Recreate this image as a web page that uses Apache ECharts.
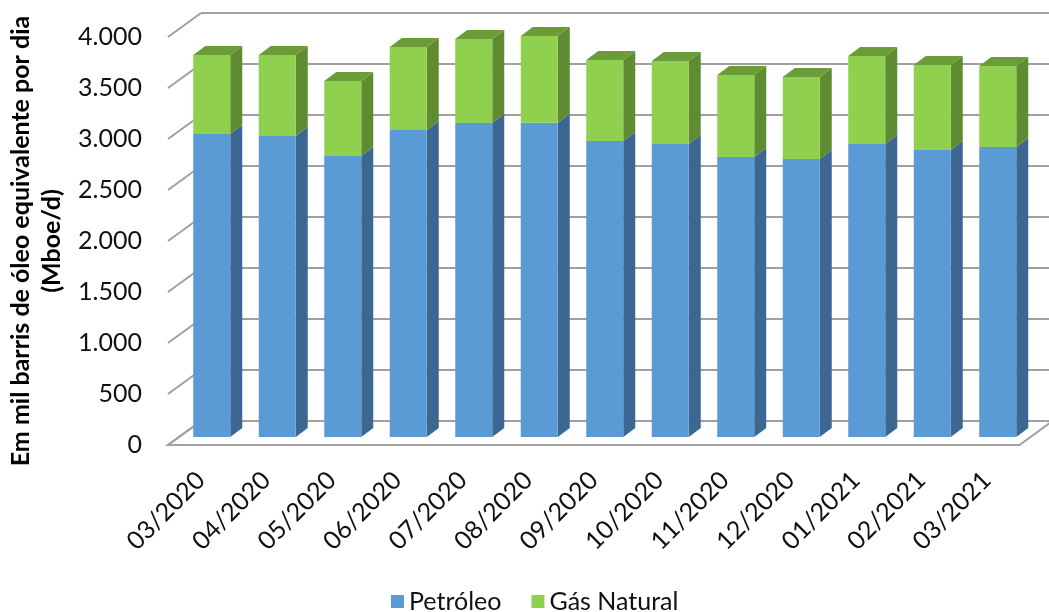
<!DOCTYPE html>
<html>
<head>
<meta charset="utf-8">
<script src="https://cdn.jsdelivr.net/npm/echarts@6/dist/echarts.min.js"></script>
<style>html,body{margin:0;padding:0;background:#fff}#c{width:1049px;height:612px}</style>
</head>
<body>
<div id="c"></div>
<script>
const categories = ['03/2020','04/2020','05/2020','06/2020','07/2020','08/2020','09/2020','10/2020','11/2020','12/2020','01/2021','02/2021','03/2021'];
const petroleo = [2971,2951,2755,3010,3078,3082,2902,2873,2745,2725,2873,2814,2843];
const gasNatural = [774,794,735,814,824,849,794,813,804,804,862,833,794];
const yTicks = [0,500,1000,1500,2000,2500,3000,3500,4000];

const FONT = 'Lato';
const BAR_OFF = [11, -8];   // front plane -> bar front face
const BAR_DEPTH = [12, -9]; // bar depth
const WALL = [33, -24];     // front plane -> back wall
const BAR_W = 0.565;

const colors = {
  pet: { front: '#5B9BD5', side: '#3B6792', top: '#4A80B4' },
  gas: { front: '#8FD14F', side: '#5F8C30', top: '#6C9C38' }
};

function segment(api, lo, hi, isTop, col) {
  const idx = api.value(0);
  const c0 = api.coord([idx, lo]);
  const c1 = api.coord([idx, hi]);
  const w = api.size([1, 0])[0] * BAR_W;
  const x0 = c0[0] + BAR_OFF[0] - w / 2, x1 = x0 + w;
  const yb = c0[1] + BAR_OFF[1], yt = c1[1] + BAR_OFF[1];
  const dx = BAR_DEPTH[0], dy = BAR_DEPTH[1];
  const children = [
    { type: 'polygon', shape: { points: [[x1, yb], [x1 + dx, yb + dy], [x1 + dx, yt + dy], [x1, yt]] }, style: { fill: col.side } },
    { type: 'rect', shape: { x: x0, y: yt, width: w, height: yb - yt }, style: { fill: col.front } }
  ];
  if (isTop) {
    children.push({ type: 'polygon', shape: { points: [[x0, yt], [x1, yt], [x1 + dx, yt + dy], [x0 + dx, yt + dy]] }, style: { fill: col.top } });
  }
  return { type: 'group', children: children };
}

const option = {
  animation: false,
  backgroundColor: '#fff',
  textStyle: { fontFamily: FONT },
  grid: { left: 168, top: 37, width: 851.5, height: 408, containLabel: false, outerBoundsMode: 'none' },
  legend: {
    data: ['Petróleo', 'Gás Natural'],
    left: 386, top: 584,
    icon: 'rect', itemWidth: 13, itemHeight: 13, itemGap: 30,
    textStyle: { fontFamily: FONT, fontSize: 25, color: '#111' }
  },
  xAxis: {
    type: 'category', data: categories,
    axisLine: { show: false }, axisTick: { show: false }, splitLine: { show: false },
    axisLabel: { rotate: 45, interval: 0, margin: 31, fontFamily: FONT, fontSize: 25, color: '#111' }
  },
  yAxis: {
    type: 'value', min: 0, max: 4000, interval: 500,
    axisLine: { show: false }, axisTick: { show: false }, splitLine: { show: false },
    axisLabel: {
      margin: 26, fontFamily: FONT, fontSize: 25, color: '#111',
      formatter: v => v >= 1000 ? Math.floor(v / 1000) + '.' + String(v % 1000).padStart(3, '0') : String(v)
    },
    name: 'Em mil barris de óleo equivalente por dia\n(Mboe/d)',
    nameLocation: 'middle', nameRotate: 90, nameGap: 88,
    nameTextStyle: { fontFamily: FONT, fontSize: 25, fontWeight: 'bold', color: '#000', lineHeight: 31, align: 'center' }
  },
  series: [
    {
      name: 'walls', type: 'custom', silent: true, clip: false, z: 1,
      data: yTicks.map(v => [0, v]),
      encode: { x: 0, y: 1 },
      renderItem: function (params, api) {
        const cs = params.coordSys;
        const v = api.value(1);
        const y = api.coord([0, v])[1];
        const x = cs.x, w = cs.width;
        const lineStyle = { stroke: '#A0A0A0', lineWidth: 2 };
        const ch = [];
        if (v === 0) {
          ch.push({ type: 'polygon', shape: { points: [[x, y], [x + w, y], [x + w + WALL[0], y + WALL[1]], [x + WALL[0], y + WALL[1]]] }, style: { fill: '#fff', stroke: '#A0A0A0', lineWidth: 2 } });
        }
        ch.push({ type: 'line', shape: { x1: x, y1: y, x2: x + WALL[0], y2: y + WALL[1] }, style: lineStyle });
        ch.push({ type: 'line', shape: { x1: x + WALL[0], y1: y + WALL[1], x2: x + w + WALL[0], y2: y + WALL[1] }, style: lineStyle });
        return { type: 'group', children: ch };
      }
    },
    {
      name: 'Petróleo', type: 'custom', clip: false, z: 2,
      itemStyle: { color: colors.pet.front },
      data: petroleo.map((v, i) => [i, v]),
      encode: { x: 0, y: 1 },
      renderItem: function (params, api) {
        return segment(api, 0, api.value(1), false, colors.pet);
      }
    },
    {
      name: 'Gás Natural', type: 'custom', clip: false, z: 3,
      itemStyle: { color: colors.gas.front },
      data: gasNatural.map((v, i) => [i, petroleo[i], petroleo[i] + v]),
      encode: { x: 0, y: 2 },
      renderItem: function (params, api) {
        return segment(api, api.value(1), api.value(2), true, colors.gas);
      }
    }
  ]
};

const chart = echarts.init(document.getElementById('c'), null, { renderer: 'canvas' });
chart.setOption(option);
</script>
</body>
</html>
